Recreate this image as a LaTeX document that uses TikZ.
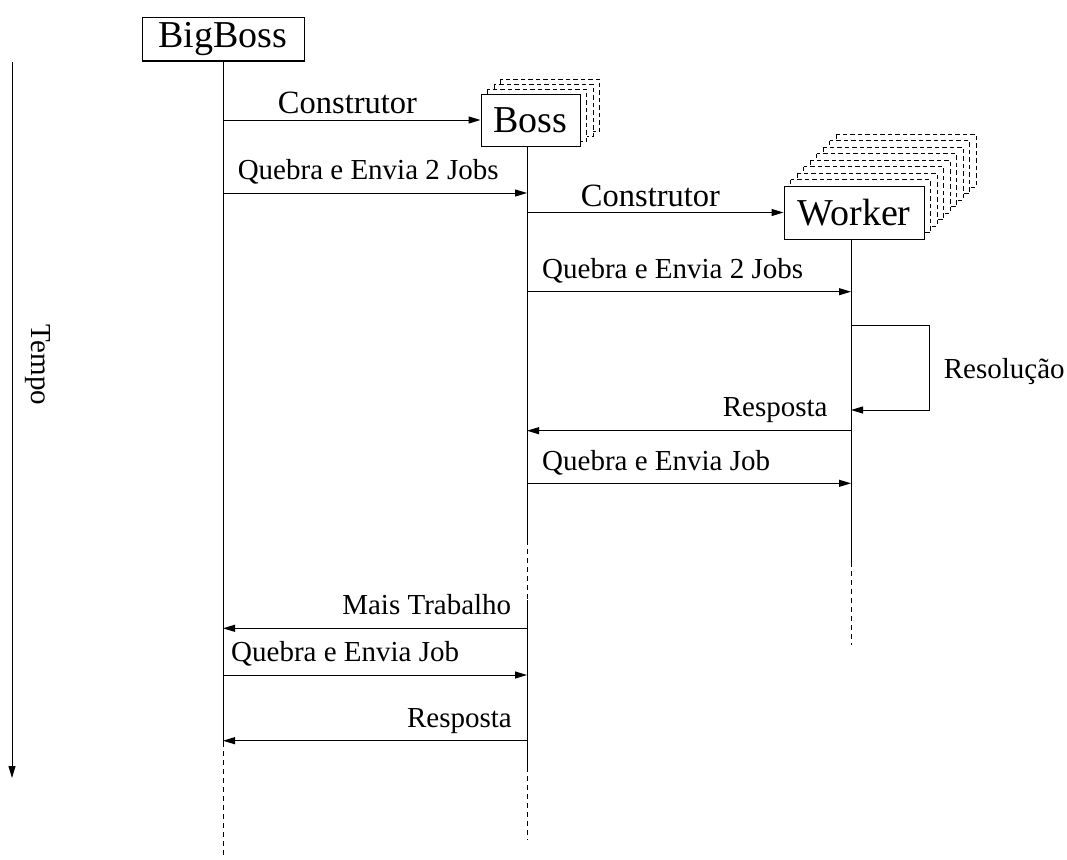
\documentclass[tikz,border=0pt]{standalone}
\usepackage{fontspec}
\setmainfont{Liberation Serif}
\usetikzlibrary{arrows.meta}

\begin{document}
\begin{tikzpicture}[x=1pt,y=-1pt,line width=1pt,
  msg/.style={-{Triangle[length=12pt,width=7pt]}},
  lbl/.style={font=\fontsize{29}{34}\selectfont,inner sep=0pt},
  ctor/.style={font=\fontsize{32.5}{38}\selectfont,inner sep=0pt},
  actor/.style={draw,fill=white,font=\fontsize{38}{44}\selectfont,inner sep=0pt},
  ghost/.style={draw,dash pattern=on 4.5pt off 3pt,fill=white},
  lifedash/.style={dash pattern=on 5pt off 4pt}]
\useasboundingbox (0,0) rectangle (1067,859);

% stacked copies behind Boss and Worker
\foreach \k in {3,2,1}
  \draw[ghost] (481+6.6*\k,94-5*\k) rectangle (580+6.6*\k,146-5*\k);
\foreach \k in {8,7,...,1}
  \draw[ghost] (784+6.5*\k,186-6.5*\k) rectangle (924+6.5*\k,239-6.5*\k);

% participants
\node[actor,minimum width=162pt,minimum height=43pt] (bigboss) at (223,39.5) {BigBoss};
\node[actor,minimum width=99pt,minimum height=52pt] (boss) at (530.5,120) {Boss};
\node[actor,minimum width=140pt,minimum height=53pt] (worker) at (854,212.5) {Worker};

% lifeline x positions
\coordinate (bbX) at (223,0);
\coordinate (bsX) at (527,0);
\coordinate (wkX) at (851,0);

% lifelines
\draw (bigboss.south) -- (223,742);
\draw[lifedash] (223,742) -- (223,858);
\draw (boss.south -| bsX) -- (527,540);
\draw[lifedash] (527,540) -- (527,600);
\draw (527,600) -- (527,767);
\draw[lifedash] (527,767) -- (527,840);
\draw (worker.south -| wkX) -- (851,562);
\draw[lifedash] (851,562) -- (851,645);

% time axis
\coordinate (t0) at (12,62);
\coordinate (t1) at (12,778);
\draw[msg] (t0) -- (t1);
\node[lbl,rotate=-90] (tempo) at (38,365) {Tempo};

% messages
\draw[msg] (223,120) -- (boss.west);
\node[ctor,anchor=base] (c1) at (347.5,113.3) {Construtor};

\draw[msg] (bbX |- 0,193) -- (bsX |- 0,193);
\node[lbl,anchor=base west] (q1) at (237.3,179.3) {Quebra e Envia 2 Jobs};

\draw[msg] (bsX |- worker.west) -- (worker.west);
\node[ctor,anchor=base] (c2) at (650.5,206.7) {Construtor};

\draw[msg] (bsX |- 0,291.7) -- (wkX |- 0,291.7);
\node[lbl,anchor=base west] (q2) at (541.7,278) {Quebra e Envia 2 Jobs};

\draw[msg] (wkX |- 0,325) -- (929,325) -- (929,410) -- (wkX |- 0,410);
\node[lbl,anchor=base west] (res) at (943.3,378.3) {Resolução};

\draw[msg] (wkX |- 0,430.7) -- (bsX |- 0,430.7);
\node[lbl,anchor=base east] (r1) at (828,416.7) {Resposta};

\draw[msg] (bsX |- 0,483.3) -- (wkX |- 0,483.3);
\node[lbl,anchor=base west] (q3) at (541.7,470) {Quebra e Envia Job};

\draw[msg] (bsX |- 0,628.3) -- (bbX |- 0,628.3);
\node[lbl,anchor=base east] (mt) at (511.7,614) {Mais Trabalho};

\draw[msg] (bbX |- 0,675) -- (bsX |- 0,675);
\node[lbl,anchor=base west] (q4) at (230.7,661.7) {Quebra e Envia Job};

\draw[msg] (bsX |- 0,740.7) -- (bbX |- 0,740.7);
\node[lbl,anchor=base east] (r2) at (512.3,727.3) {Resposta};
\end{tikzpicture}
\end{document}
